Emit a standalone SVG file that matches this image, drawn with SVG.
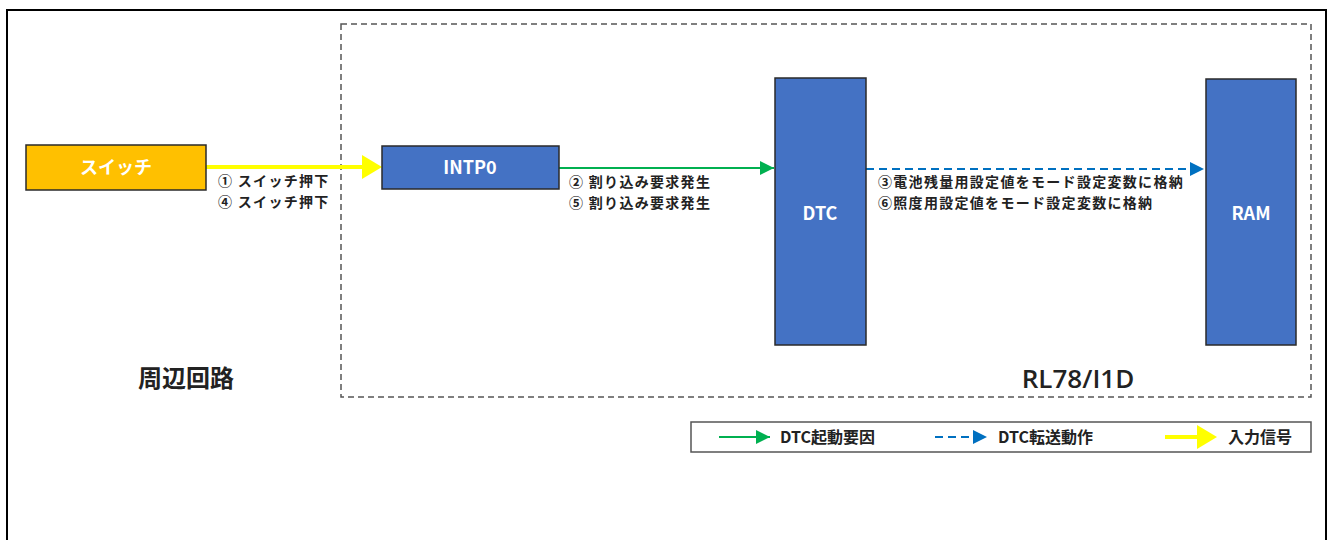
<svg xmlns="http://www.w3.org/2000/svg" width="1333" height="540" viewBox="0 0 1333 540">
<defs>
<style>
.jp{font-family:"Noto Sans CJK JP","Liberation Sans",sans-serif;font-weight:bold;}
.lbl{font-size:14px;letter-spacing:1.3px;fill:#222;}
.lg{font-size:16px;fill:#222;}
.wt{font-size:18px;fill:#fff;text-anchor:middle;dominant-baseline:central;}
.blue{fill:#4472C4;stroke:#2a2a2a;stroke-width:1.5;}
</style>
<marker id="ahG" viewBox="0 0 10 10" refX="10" refY="5" markerWidth="8" markerHeight="7" orient="auto" markerUnits="strokeWidth"><path d="M0,0 L10,5 L0,10 z" fill="#00B050"/></marker>
<marker id="ahB" viewBox="0 0 10 10" refX="10" refY="5" markerWidth="8" markerHeight="7" orient="auto" markerUnits="strokeWidth"><path d="M0,0 L10,5 L0,10 z" fill="#0070C0"/></marker>
</defs>
<rect x="0" y="0" width="1333" height="540" fill="#fff"/>
<rect x="7" y="10" width="1319" height="540" fill="none" stroke="#000" stroke-width="2"/>
<g id="rl78-boundary">
<rect x="341" y="24" width="970" height="373" fill="none" stroke="#555" stroke-width="1.5" stroke-dasharray="6,4"/>
<text x="1078" y="388" text-anchor="middle" font-family="Open Sans,Liberation Sans,sans-serif" font-size="26" font-weight="600" fill="#222">RL78/I1D</text>
</g>
<g id="periph-label"><text x="186" y="387" text-anchor="middle" class="jp" font-size="24" fill="#222">周辺回路</text></g>
<g id="connectors">
<line x1="206" y1="167" x2="364" y2="167" stroke="#FFFF00" stroke-width="4"/>
<path d="M362,155 L382,167 L362,179 z" fill="#FFFF00"/>
<line x1="559" y1="168" x2="774" y2="168" stroke="#00B050" stroke-width="2" marker-end="url(#ahG)"/>
<line x1="866" y1="169" x2="1204" y2="169" stroke="#0070C0" stroke-width="2" stroke-dasharray="8,5" marker-end="url(#ahB)"/>
<text class="jp lbl" x="218" y="186">① スイッチ押下</text>
<text class="jp lbl" x="218" y="206.5">④ スイッチ押下</text>
<text class="jp lbl" x="569" y="187">② 割り込み要求発生</text>
<text class="jp lbl" x="569" y="207.5">⑤ 割り込み要求発生</text>
<text class="jp lbl" x="878" y="187">③電池残量用設定値をモード設定変数に格納</text>
<text class="jp lbl" x="878" y="207.5">⑥照度用設定値をモード設定変数に格納</text>
</g>
<g id="switch"><rect x="26" y="145" width="180" height="45" fill="#FFC000" stroke="#2a2a2a" stroke-width="1.5"/><text class="jp wt" x="116" y="166">スイッチ</text></g>
<g id="intp0"><rect class="blue" x="382" y="146" width="177" height="43"/><text class="jp wt" x="470" y="166">INTP0</text></g>
<g id="dtc"><rect class="blue" x="775" y="78" width="91" height="267"/><text class="jp wt" x="820" y="212">DTC</text></g>
<g id="ram"><rect class="blue" x="1206" y="79" width="90" height="266"/><text class="jp wt" x="1251" y="212">RAM</text></g>
<g id="legend">
<rect x="691" y="422" width="620" height="30" fill="#fff" stroke="#555" stroke-width="1.5"/>
<line x1="719" y1="437" x2="770" y2="437" stroke="#00B050" stroke-width="2" marker-end="url(#ahG)"/>
<text class="jp lg" x="780" y="443">DTC起動要因</text>
<line x1="935" y1="437" x2="987" y2="437" stroke="#0070C0" stroke-width="2" stroke-dasharray="8,5" marker-end="url(#ahB)"/>
<text class="jp lg" x="998" y="443">DTC転送動作</text>
<line x1="1165" y1="437" x2="1199" y2="437" stroke="#FFFF00" stroke-width="4"/>
<path d="M1197,425 L1217,437 L1197,449 z" fill="#FFFF00"/>
<text class="jp lg" x="1228" y="443">入力信号</text>
</g>
</svg>
